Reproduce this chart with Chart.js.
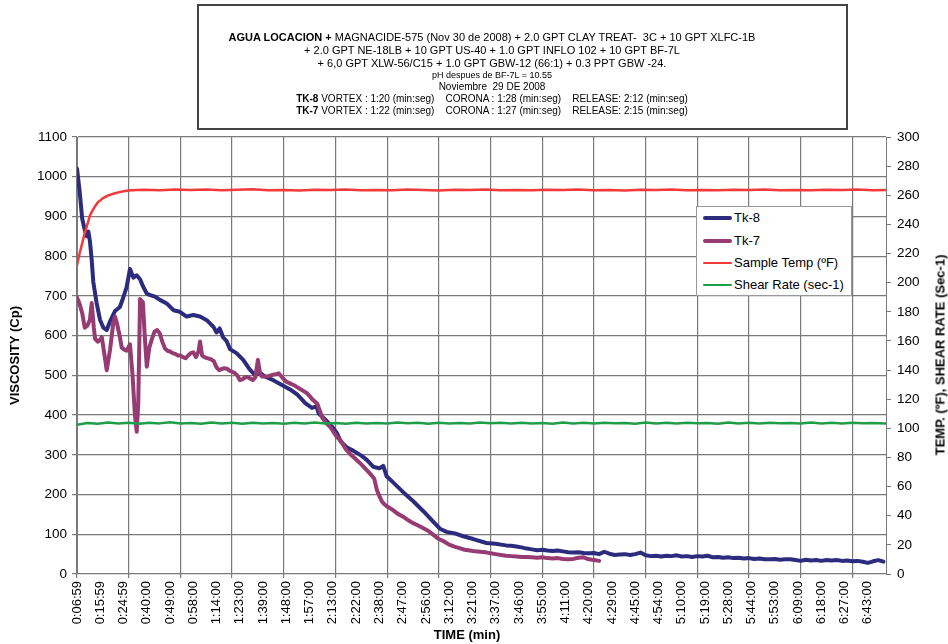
<!DOCTYPE html>
<html><head><meta charset="utf-8">
<script src="https://cdn.jsdelivr.net/npm/chart.js@4.4.1/dist/chart.umd.min.js"></script>
<style>
html,body{margin:0;padding:0;background:#fff;}
#wrap{position:relative;width:948px;height:644px;font-family:"Liberation Sans",Arial,sans-serif;color:#000;overflow:hidden;}
#c{position:absolute;left:0;top:0;}
#titlebox{position:absolute;left:197px;top:4px;width:651px;height:126px;border:2px solid #444;background:#fff;box-sizing:border-box;}
.tl{position:absolute;left:192px;width:600px;text-align:center;white-space:pre;}
#legend{position:absolute;left:696px;top:206px;width:156px;height:90px;border:1px solid #999;background:#fff;box-sizing:border-box;}
.li{position:absolute;left:0;height:16px;width:156px;}
.li .sw{position:absolute;left:6px;width:29px;border-radius:2px;}
.li .tx{position:absolute;left:37px;top:0;font-size:13px;line-height:16px;white-space:nowrap;}
#ytitle2{position:absolute;left:940px;top:355px;transform:translate(-50%,-50%) rotate(-90deg);font-weight:bold;font-size:13px;white-space:nowrap;}
#xtitle{position:absolute;left:467px;top:634px;transform:translate(-50%,-50%);font-weight:bold;font-size:13px;white-space:nowrap;}
</style></head>
<body>
<div id="wrap">
<canvas id="c" width="948" height="644"></canvas>
<div id="titlebox"></div>
<div class="tl" style="top:31px;font-size:11px;"><b>AGUA LOCACION +</b> MAGNACIDE-575 (Nov 30 de 2008) + 2.0 GPT CLAY TREAT-  3C + 10 GPT XLFC-1B</div>
<div class="tl" style="top:44px;font-size:11px;">+ 2.0 GPT NE-18LB + 10 GPT US-40 + 1.0 GPT INFLO 102 + 10 GPT BF-7L</div>
<div class="tl" style="top:57px;font-size:11px;">+ 6,0 GPT XLW-56/C15 + 1.0 GPT GBW-12 (66:1) + 0.3 PPT GBW -24.</div>
<div class="tl" style="top:70px;font-size:9px;">pH despues de BF-7L = 10.55</div>
<div class="tl" style="top:81px;font-size:10px;">Noviembre  29 DE 2008</div>
<div class="tl" style="top:93px;font-size:10px;"><b>TK-8</b> VORTEX : 1:20 (min:seg)    CORONA : 1:28 (min:seg)    RELEASE: 2:12 (min:seg)</div>
<div class="tl" style="top:105px;font-size:10px;"><b>TK-7</b> VORTEX : 1:22 (min:seg)    CORONA : 1:27 (min:seg)    RELEASE: 2:15 (min:seg)</div>
<div id="legend"></div>
<div id="ytitle2">TEMP. (ºF), SHEAR RATE (Sec-1)</div>
<div id="xtitle">TIME (min)</div>
</div>
<script>
// ---- data (sample index, value) ----
const tickLabels = ["0:06:59","0:15:59","0:24:59","0:40:00","0:49:00","0:58:00","1:14:00","1:23:00","1:39:00","1:48:00","1:57:00","2:13:00","2:22:00","2:38:00","2:47:00","2:56:00","3:12:00","3:21:00","3:37:00","3:46:00","3:55:00","4:11:00","4:20:00","4:29:00","4:45:00","4:54:00","5:10:00","5:19:00","5:28:00","5:44:00","5:53:00","6:09:00","6:18:00","6:27:00","6:43:00"];
const seriesNames = ["Tk-8","Tk-7","Sample Temp (ºF)","Shear Rate (sec-1)"];

const tk8 = [[0,1020],[1,965],[2,895],[3,866],[3.8,850],[4.4,862],[5,838],[5.7,790],[6.3,735],[7.6,682],[8.9,640],[10.2,620],[11.5,614],[12.8,636],[14.7,662],[16.6,672],[17.9,696],[19.2,722],[20.5,768],[21.8,746],[23.1,752],[24.4,742],[25.6,723],[27,706],[28.3,702],[30.2,698],[32.1,690],[34.7,681],[37.3,664],[39.8,660],[42.4,648],[45,652],[47.6,648],[50.2,639],[52.8,622],[54,608],[55.2,618],[56.5,596],[57.9,586],[59.2,566],[61.7,556],[64.3,539],[66.8,515],[68.8,501],[70.8,506],[72.5,498],[75.9,488],[79.8,474],[82.6,464],[85.5,450],[88.3,430],[90.9,418],[92.7,422],[93.5,404],[96.2,388],[98.8,370],[100.6,354],[102,334],[104.5,318],[107,310],[110,298],[112,288],[114.6,270],[117,266],[118.5,272],[119.8,246],[122.4,230],[126.2,206],[130.1,183],[134,158],[137.8,132],[140.4,114],[143,106],[146.2,102],[149.4,95],[153.3,88],[158.4,78],[162,76],[164,74],[166,72],[168,71],[170,69],[172,67],[174,64],[176,62],[178,60],[180,61],[182,59],[184,58],[186,59],[188,57],[190,55],[192,54],[194,55],[196,53],[198,52],[200,53],[202,50],[204,56],[206,51],[208,48],[210,49],[212,50],[214,48],[216,50],[218,54],[220,47],[222,45],[224,46],[226,44],[228,46],[230,45],[232,47],[234,44],[236,45],[238,43],[240,45],[242,44],[244,46],[246,42],[248,43],[250,41],[252,42],[254,40],[256,41],[258,39],[260,40],[262,38],[264,39],[266,37],[268,37],[270,38],[272,36],[274,37],[276,37],[278,35],[280,33],[282,36],[284,34],[286,35],[288,33],[290,35],[292,34],[294,35],[296,33],[298,34],[300,32],[302,33],[304,31],[306,28],[308,32],[310,35],[312,31]];

const tk7 = [[0,696],[1,680],[2,657],[3,620],[4,625],[5,640],[5.7,682],[6.5,620],[7,592],[8,585],[9,590],[9.6,596],[10.2,570],[11.5,513],[12.8,565],[14,630],[14.7,648],[15.5,630],[16.5,600],[17.3,570],[18.5,564],[19.2,562],[20.5,578],[21.5,500],[22.4,400],[23.1,358],[23.7,430],[24.4,692],[25.5,684],[26.2,600],[27,522],[28,570],[29,592],[30,610],[31,614],[32,606],[33,585],[34,568],[35,562],[36,560],[37,556],[38,554],[39,550],[40,550],[41,546],[42,543],[43,550],[44,556],[45,558],[46,546],[47,560],[47.6,585],[48.4,550],[49,547],[50,544],[51,542],[52,540],[53,535],[54,520],[55,513],[56,516],[57,518],[58,517],[59,512],[60,509],[61,506],[62,500],[63,488],[64,490],[65,495],[66,496],[67,492],[68,488],[69,495],[70,539],[70.8,505],[71.5,497],[73,497],[74,498],[75,500],[76,502],[77,503],[78,505],[79,498],[80,490],[81,484],[82,481],[83,478],[84,475],[85,471],[86,467],[87,463],[88,459],[89,455],[90,448],[91,440],[92,434],[93,428],[94,410],[95,392],[96,384],[97,376],[98,370],[99,360],[100,350],[101,342],[102,336],[103,325],[104,314],[106,300],[108,288],[110,276],[112,262],[114,248],[115,240],[116,212],[117,196],[118,182],[119,175],[120,170],[122,162],[124,152],[126,145],[128,136],[130,128],[132,122],[134,115],[136,108],[138,98],[140,88],[142,82],[144,74],[146,69],[148,65],[150,61],[152,59],[154,57],[156,56],[158,55],[160,52],[162,50],[164,48],[166,46],[168,45],[170,44],[172,43],[174,43],[176,42],[178,41],[180,42],[182,40],[184,39],[186,40],[188,38],[190,37],[192,38],[194,41],[196,42],[198,37],[200,35],[202,33]];

const temp = [[0,212],[1,220],[2,227],[3,234],[4,240],[5,246],[6,249.5],[7,252.5],[8,255],[9,256.5],[10,258],[12,259.8],[14,261],[16,262],[18,262.8],[20,263.2],[23,263.6],[26,263.8],[32,263.5],[38,264],[44,263.6],[50,263.9],[56,263.4],[62,263.8],[68,264.1],[74,263.5],[80,263.7],[86,263.3],[92,263.8],[98,263.6],[104,264],[110,263.5],[116,263.7],[122,263.4],[128,263.9],[134,263.6],[140,263.3],[146,263.8],[152,263.6],[158,264],[164,263.5],[170,263.7],[176,263.4],[182,263.8],[188,263.6],[194,263.9],[200,263.5],[206,263.7],[212,263.3],[218,263.8],[224,263.6],[230,264],[236,263.5],[242,263.7],[248,263.4],[254,263.8],[260,263.6],[266,263.9],[272,263.4],[278,263.7],[284,263.5],[290,263.8],[296,263.6],[302,263.9],[308,263.5],[313,263.7]];

const shear = [[0,102.5],[4,103.6],[8,103.2],[12,104],[16,103.3],[20,103.8],[24,103.1],[28,103.9],[32,103.4],[36,104.1],[40,103.3],[44,103.7],[48,103.2],[52,104],[56,103.4],[60,103.8],[64,103.2],[68,103.9],[72,103.3],[76,103.7],[80,103.1],[84,103.8],[88,103.4],[92,104],[96,103.3],[100,103.6],[104,103.2],[108,103.9],[112,103.4],[116,103.7],[120,103.3],[124,104],[128,103.5],[132,103.8],[136,103.2],[140,103.9],[144,103.4],[148,103.7],[152,103.3],[156,104],[160,103.5],[164,103.8],[168,103.3],[172,103.9],[176,103.4],[180,103.7],[184,103.2],[188,104],[192,103.4],[196,103.8],[200,103.3],[204,103.9],[208,103.5],[212,103.7],[216,103.2],[220,104],[224,103.4],[228,103.8],[232,103.3],[236,103.9],[240,103.5],[244,103.7],[248,103.2],[252,104],[256,103.4],[260,103.8],[264,103.3],[268,103.9],[272,103.5],[276,103.7],[280,103.3],[284,104],[288,103.4],[292,103.8],[296,103.3],[300,103.9],[304,103.5],[308,103.7],[313,103.4]];

// ---- axis settings ----
const LABEL_STEP = 9;   // samples between category labels
const GRID_STEP = 20;   // samples between vertical gridlines
const X_MAX = 313;
const GRID = '#7a7a7a';
const FONT = '"Liberation Sans", Arial, sans-serif';
const colors = ['#2c2b7e','#963c73','#f23a3a','#1f9e48'];
const widths = [4,4,2.5,2.5];

const toXY = arr => arr.map(p => ({x:p[0], y:p[1]}));
const allData = [tk8, tk7, temp, shear];
const axisIds = ['y','y','y2','y2'];

const datasets = allData.map((d,i) => ({
  label: seriesNames[i], data: toXY(d), yAxisID: axisIds[i],
  borderColor: colors[i], backgroundColor: colors[i], borderWidth: widths[i],
  pointRadius: 0, tension: 0, borderJoinStyle: 'round', borderCapStyle: 'round',
  order: 4 - i, fill: false
}));

new Chart(document.getElementById('c'), {
  type: 'line',
  data: { datasets },
  options: {
    responsive: false, animation: false, events: [],
    layout: { padding: { top: 137, left: 0, right: 0, bottom: 0 } },
    plugins: { legend: { display: false }, tooltip: { enabled: false } },
    scales: {
      x: {
        type: 'linear', min: 0, max: X_MAX, position: 'bottom',
        afterBuildTicks: s => {
          const set = new Set();
          tickLabels.forEach((_, k) => set.add(k * LABEL_STEP));
          for (let v = 0; v <= X_MAX; v += GRID_STEP) set.add(v);
          s.ticks = [...set].sort((a,b)=>a-b).map(v => ({ value: v }));
        },
        afterFit: s => { s.height = 70; },
        ticks: {
          autoSkip: false, minRotation: 90, maxRotation: 90, padding: 3,
          color: '#000', font: { family: FONT, size: 13 },
          callback: v => (v % LABEL_STEP === 0 ? (tickLabels[v / LABEL_STEP] || '') : '')
        },
        grid: {
          color: c => (c.tick && c.tick.value % GRID_STEP === 0) ? GRID : 'rgba(0,0,0,0)',
          tickColor: c => (c.tick && c.tick.value % GRID_STEP === 0) ? GRID : 'rgba(0,0,0,0)',
          tickLength: 4, lineWidth: 1.2
        },
        border: { display: false }
      },
      y: {
        position: 'left', min: 0, max: 1100,
        afterFit: s => { s.width = 77; },
        ticks: { stepSize: 100, padding: 5, color: '#000', font: { family: FONT, size: 13.5 },
                 callback: v => String(v) },
        grid: { color: GRID, tickColor: GRID, tickLength: 5, lineWidth: 1.2 },
        border: { display: true, color: GRID },
        title: { display: true, text: 'VISCOSITY (Cp)', color: '#000', padding: { top: 8, bottom: 0 },
                 font: { family: FONT, size: 13, weight: 'bold' } }
      },
      y2: {
        position: 'right', min: 0, max: 300,
        afterFit: s => { s.width = 62; },
        ticks: { stepSize: 20, padding: 6, color: '#000', font: { family: FONT, size: 13.5 },
                 callback: v => String(v) },
        grid: { drawOnChartArea: false, color: GRID, tickColor: GRID, tickLength: 5 },
        border: { display: true, color: GRID }
      }
    }
  }
});

// ---- legend (HTML) ----
const lg = document.getElementById('legend');
const legendTops = [3, 26, 48, 70];
seriesNames.forEach((n, i) => {
  const it = document.createElement('div');
  it.className = 'li'; it.style.top = legendTops[i] + 'px';
  const sw = document.createElement('div'); sw.className = 'sw';
  sw.style.background = colors[i]; sw.style.height = widths[i] + 'px';
  sw.style.top = (8 - widths[i] / 2) + 'px';
  const tx = document.createElement('div'); tx.className = 'tx'; tx.textContent = n;
  it.appendChild(sw); it.appendChild(tx); lg.appendChild(it);
});
</script>
</body></html>
